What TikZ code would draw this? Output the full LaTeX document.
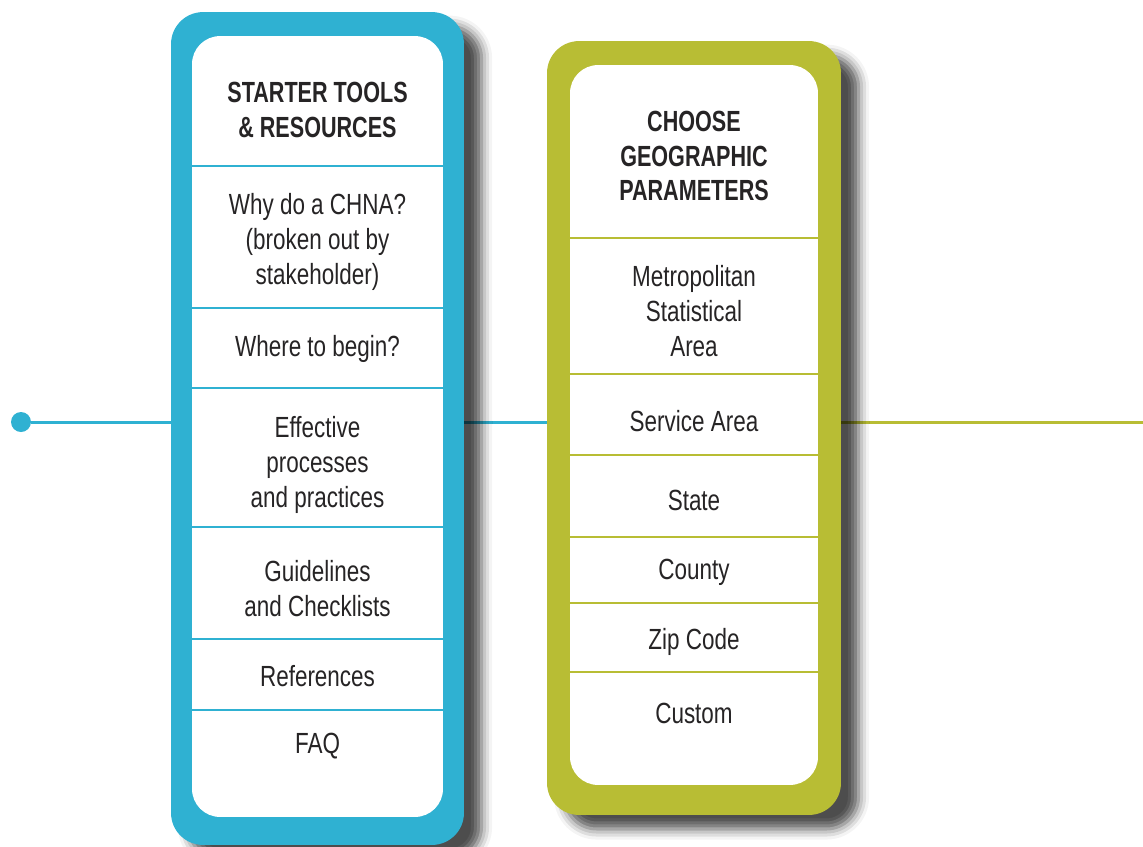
\documentclass[tikz,border=0pt]{standalone}
\usepackage{fontspec}
\setmainfont{Liberation Sans}[FakeStretch=0.77, BoldFeatures={FakeStretch=0.74}]
\usetikzlibrary{shadows.blur}
\usetikzlibrary{backgrounds}
\definecolor{chnablue}{RGB}{47,177,210}
\definecolor{chnagreen}{RGB}{184,189,52}
\definecolor{ink}{RGB}{38,36,37}

\begin{document}
\begin{tikzpicture}[x=0.02cm, y=-0.02cm,
        outerbox/.style={rounded corners=0.64cm, inner sep=0pt,
            blur shadow={shadow xshift=10pt, shadow yshift=-8pt,
                shadow blur radius=6pt, shadow opacity=70}},
        innerbox/.style={fill=white, rounded corners=0.56cm, inner sep=0pt},
        entry/.style={align=center, text=ink, yshift=-1.2pt, font=\fontsize{16.6}{19.8}\selectfont},
        headline/.style={entry, font=\fontsize{16.6}{19.8}\selectfont\bfseries},
        link/.style={line width=1.7pt},
        divider/.style={line width=1.4pt}]
    \useasboundingbox (0,0) rectangle (1143,846);

    % the two columns
    \node[outerbox, fill=chnablue, minimum width=5.86cm, minimum height=16.66cm] (tools) at (317.5,428.5) {};
    \node[innerbox, minimum width=5.02cm, minimum height=15.62cm] (toolsin) at (317.5,426.5) {};
    \node[outerbox, fill=chnagreen, minimum width=5.88cm, minimum height=15.48cm] (geo) at (694,428) {};
    \node[innerbox, minimum width=4.96cm, minimum height=14.4cm] (geoin) at (694,425) {};

    \draw[divider, chnablue] (192,166) -- (443,166) (192,308) -- (443,308)
        (192,388) -- (443,388) (192,527) -- (443,527)
        (192,639) -- (443,639) (192,710) -- (443,710);
    \draw[divider, chnagreen] (570,238) -- (818,238) (570,374) -- (818,374)
        (570,455) -- (818,455) (570,537) -- (818,537)
        (570,603) -- (818,603) (570,672) -- (818,672);

    % starter tools
    \node[headline] (starter) at (317.5,107.5) {STARTER TOOLS\\\& RESOURCES};
    \node[entry] (why) at (317.5,240) {Why do a CHNA?\\(broken out by\\stakeholder)};
    \node[entry] (begin) at (317.5,347) {Where to begin?};
    \node[entry] (effective) at (317.5,463) {Effective\\processes\\and practices};
    \node[entry] (guide) at (317.5,586.5) {Guidelines\\and Checklists};
    \node[entry] (refs) at (317.5,674) {References};
    \node[entry] (faq) at (317.5,744) {FAQ};

    % geographic parameters
    \node[headline] (choose) at (694,154) {CHOOSE\\GEOGRAPHIC\\PARAMETERS};
    \node[entry] (msa) at (694,309) {Metropolitan\\Statistical\\Area};
    \node[entry] (service) at (694,419) {Service Area};
    \node[entry] (state) at (694,498) {State};
    \node[entry] (county) at (694,570) {County};
    \node[entry] (zip) at (694,640) {Zip Code};
    \node[entry] (custom) at (694,711) {Custom};

    \node[circle, fill=chnablue, minimum size=0.4cm, inner sep=0pt] (start) at (21,422) {};
    \coordinate (finish) at (1143,422);

    \begin{pgfonlayer}{background}
        \draw[link, chnablue] (start) -- (start -| tools.west);
        \draw[link, chnablue] (start -| tools.east) -- (start -| geo.west);
        \draw[link, chnagreen] (start -| geo.east) -- (finish);
    \end{pgfonlayer}
\end{tikzpicture}
\end{document}
